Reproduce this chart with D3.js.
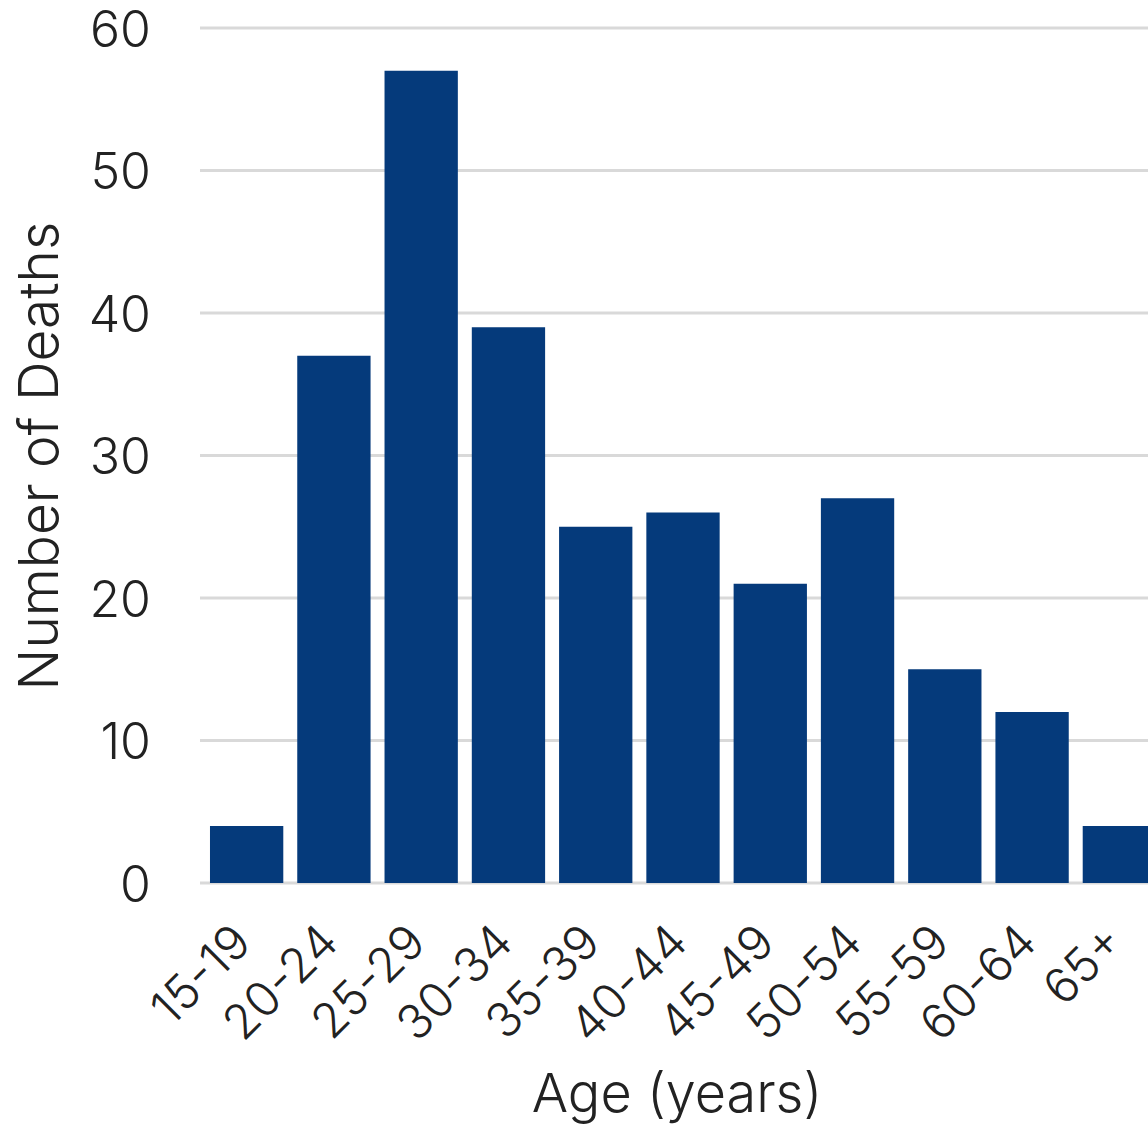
<!DOCTYPE html>
<html>
<head>
<meta charset="utf-8">
<script src="https://cdn.jsdelivr.net/npm/d3@7"></script>
<style>
  html, body { margin: 0; padding: 0; background: #ffffff; }
  svg { display: block; }
  text { font-family: "Inter", "Open Sans", sans-serif; font-weight: 300; fill: #222222; }
</style>
</head>
<body>
<svg id="chart" width="1148" height="1126"></svg>
<script>
// Deaths by age group
const ageGroups = ["15-19", "20-24", "25-29", "30-34", "35-39", "40-44", "45-49", "50-54", "55-59", "60-64", "65+"];
const deaths = [4, 37, 57, 39, 25, 26, 21, 27, 15, 12, 4];
const yTicks = [0, 10, 20, 30, 40, 50, 60];

const svg = d3.select("#chart");
const plot = { left: 203, right: 1163, top: 28, bottom: 883 };

const x = d3.scaleBand()
  .domain(ageGroups)
  .range([plot.left, plot.right])
  .paddingInner(0.16)
  .paddingOuter(0.08);

const y = d3.scaleLinear()
  .domain([0, 60])
  .range([plot.bottom, plot.top]);

// Horizontal gridlines
svg.append("g")
  .selectAll("line")
  .data(yTicks)
  .join("line")
  .attr("x1", plot.left - 3)
  .attr("x2", plot.right)
  .attr("y1", d => y(d))
  .attr("y2", d => y(d))
  .attr("stroke", "#d9d9d9")
  .attr("stroke-width", 3);

// Bars
svg.append("g")
  .selectAll("rect")
  .data(ageGroups.map((g, i) => ({ g, v: deaths[i] })))
  .join("rect")
  .attr("x", d => x(d.g))
  .attr("width", x.bandwidth())
  .attr("y", d => y(d.v))
  .attr("height", d => y(0) - y(d.v))
  .attr("fill", "#053a7b");

// Y axis tick labels
const yAxis = d3.axisLeft(y).tickValues(yTicks).tickSize(0).tickPadding(0);
const yg = svg.append("g")
  .attr("transform", `translate(${plot.left - 52},0)`)
  .call(yAxis);
yg.select(".domain").remove();
yg.selectAll("text")
  .attr("font-family", null)
  .style("font-size", "50px")
  .attr("dy", "0.36em");

// X axis tick labels, rotated
const xAxis = d3.axisBottom(x).tickSize(0).tickPadding(0);
const xg = svg.append("g")
  .attr("transform", `translate(0,${plot.bottom + 62})`)
  .call(xAxis);
xg.select(".domain").remove();
xg.selectAll("text")
  .attr("font-family", null)
  .style("font-size", "48px")
  .attr("text-anchor", "end")
  .attr("dy", 0)
  .attr("y", 0)
  .attr("transform", "translate(7,0) rotate(-45)");

// Axis titles
svg.append("text")
  .attr("transform", `translate(58,456) rotate(-90)`)
  .attr("text-anchor", "middle")
  .style("font-size", "55px")
  .text("Number of Deaths");

svg.append("text")
  .attr("x", 677)
  .attr("y", 1112)
  .attr("text-anchor", "middle")
  .style("font-size", "54px")
  .text("Age (years)");
</script>
</body>
</html>
